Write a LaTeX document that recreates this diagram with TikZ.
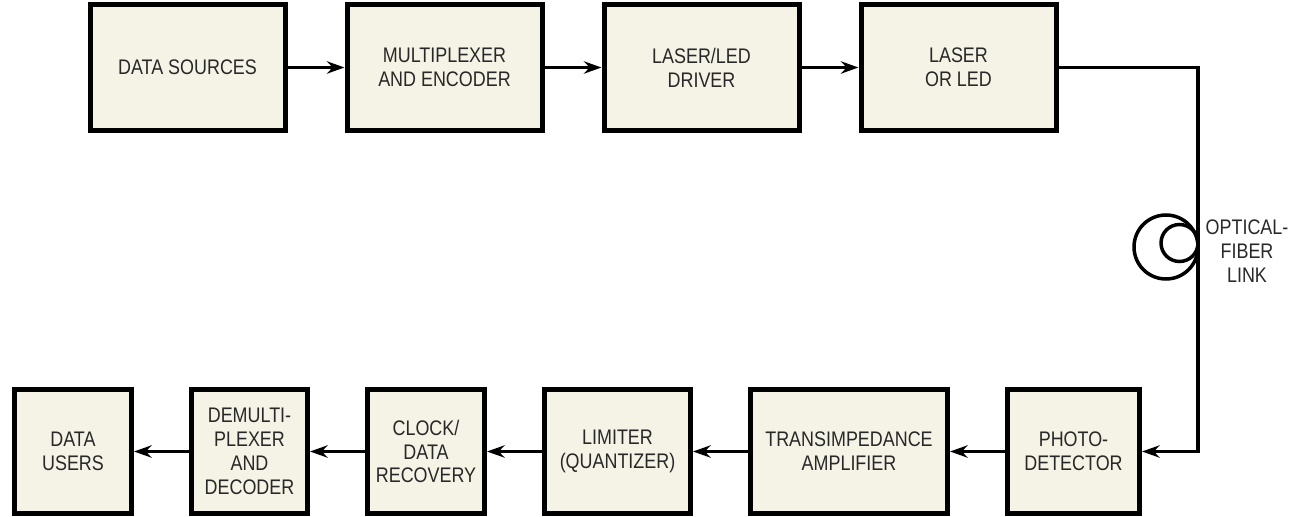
\documentclass[tikz,border=0pt]{standalone}
\usepackage{fontspec}
\setmainfont[FakeStretch=0.85]{Liberation Sans}
\usepackage{xcolor}
\usepackage{tikz}
\usetikzlibrary{arrows.meta,positioning,calc}
\definecolor{boxfill}{RGB}{245,243,229}
\definecolor{boxtext}{RGB}{40,40,40}

\begin{document}
\begin{tikzpicture}[
    node distance=1.14cm,
    block/.style={draw, line width=0.1cm, fill=boxfill, text=boxtext, align=center, inner sep=0pt, font=\fontsize{12}{13.6}\selectfont, minimum width=3.9cm, minimum height=2.52cm},
    rxblock/.style={block, minimum height=2.48cm},
    signal/.style={-{Stealth[length=10pt,width=7pt]}, line width=0.07cm},
    fiber/.style={line width=0.07cm},
    tag/.style={align=center, text=boxtext, inner sep=0pt, font=\fontsize{12}{13.6}\selectfont}
]
    \useasboundingbox (0,0) rectangle (25.92,-10.34);

    % Transmitter chain
    \node[block] (src) at (3.75,-1.35) {DATA SOURCES};
    \node[block, right=of src] (mux) {MULTIPLEXER\\AND ENCODER};
    \node[block, right=of mux] (drv) {LASER/LED\\DRIVER};
    \node[block, right=of drv] (laser) {LASER\\OR LED};

    % Receiver chain, right to left
    \node[rxblock, minimum width=2.64cm] (photo) at (21.47,-9.03) {PHOTO-\\DETECTOR};
    \node[rxblock, minimum width=3.94cm, left=1.1cm of photo] (tia) {TRANSIMPEDANCE\\AMPLIFIER};
    \node[rxblock, minimum width=2.92cm, left=1.1cm of tia] (lim) {LIMITER\\(QUANTIZER)};
    \node[rxblock, minimum width=2.34cm, left=1.1cm of lim] (cdr) {CLOCK/\\DATA\\RECOVERY};
    \node[rxblock, minimum width=2.32cm, left=1.1cm of cdr] (demux) {DEMULTI-\\PLEXER\\AND\\DECODER};
    \node[rxblock, minimum width=2.34cm, left=1.1cm of demux] (users) {DATA\\USERS};

    % Signal arrows
    \foreach \from/\to in {src/mux, mux/drv, drv/laser, photo/tia, tia/lim, lim/cdr, cdr/demux, demux/users} {
        \draw[signal] (\from) -- (\to);
    }

    % Optical fiber link with coil
    \coordinate (coil) at (23.96,-4.94);
    \draw[fiber] (laser.east) -- (laser.east -| coil) -- (coil);
    \draw[signal] (coil) -- (coil |- photo.east) -- (photo.east);
    \draw[fiber] ($(coil)+(-0.64,0)$) circle (0.64cm);
    \draw[fiber] ($(coil)+(-0.37,0.08)$) circle (0.37cm);
    \node[tag] (fiberlbl) at (24.94,-5.02) {OPTICAL-\\FIBER\\LINK};
\end{tikzpicture}
\end{document}
